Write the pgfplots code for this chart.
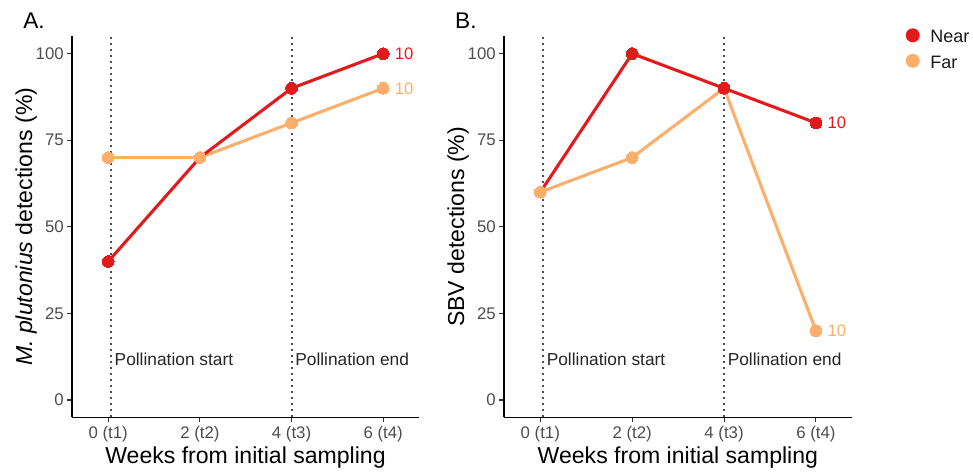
\documentclass[border=0pt]{standalone}
\usepackage{pgfplots}
\pgfplotsset{compat=1.18}
\usepackage{fontspec}
\setmainfont{Liberation Sans}
\definecolor{nearc}{HTML}{E31A1C}
\definecolor{farc}{HTML}{FDAE6B}
\definecolor{tickc}{HTML}{4D4D4D}
\definecolor{dotc}{HTML}{4D4D4D}

\pgfplotsset{
  panel/.style={
    scale only axis, height=285.75pt,
    xmin=-0.395, xmax=3.39, ymin=-5, ymax=105,
    axis x line*=bottom, axis y line*=left,
    axis line style={-, line width=1.2pt, black},
    xtick={0,1,2,3}, xticklabels={0 (t1),2 (t2),4 (t3),6 (t4)},
    ytick={0,25,50,75,100},
    tick align=outside, major tick length=3.75pt,
    tick style={line width=0.8pt, color=black!80},
    /pgf/number format/assume math mode=true,
    tick label style={font=\fontsize{12.6}{14}\selectfont, text=tickc},
    xticklabel style={anchor=base, inner sep=0pt, yshift=-12.25pt},
    yticklabel style={anchor=east, inner sep=0pt, xshift=-2.25pt},
    every axis x label/.style={at={(axis description cs:0.5,-0.1207)}, anchor=base, font=\fontsize{17.3}{20}\selectfont},
    every axis y label/.style={at={(axis description cs:-0.115,0.5)}, rotate=90, anchor=base, font=\fontsize{17.3}{20}\selectfont},
    xlabel={Weeks from initial sampling},
    clip=false,
  },
  nearstyle/.style={color=nearc, line width=2.3pt, mark=*, mark size=4.4pt, mark options={line width=0pt, fill=nearc}},
  farstyle/.style={color=farc, line width=2.3pt, mark=*, mark size=4.4pt, mark options={line width=0pt, fill=farc}},
  vline/.style={color=dotc, line width=1.5pt, dash pattern=on 1.5pt off 3pt, forget plot},
}
\tikzset{
  annot/.style={anchor=base west, inner sep=0pt, xshift=2.6pt, font=\fontsize{13}{15}\selectfont, text=black!85},
  nlab/.style={anchor=west, inner sep=0pt, xshift=8.6pt, font=\fontsize{12.5}{14}\selectfont},
  letter/.style={anchor=base west, inner sep=0pt, font=\fontsize{17}{20}\selectfont},
}

\begin{document}
\begin{tikzpicture}
\path[use as bounding box] (0,0) rectangle (729.75pt,-353.25pt);

% Panel A
\begin{axis}[panel, width=260.25pt, at={(54pt,-312.98pt)}, anchor=south west,
  ylabel={\textit{M. plutonius} detections (\%)}]
\addplot[vline] coordinates {(0.03,-5) (0.03,105)};
\addplot[vline] coordinates {(2,-5) (2,105)};
\addplot[farstyle, forget plot] coordinates {(0,70) (1,70) (2,80) (3,90)};
\addplot[nearstyle, forget plot, mark indices={1,3,4}] coordinates {(0,40) (1,70) (2,90) (3,100)};
\node[annot] at (axis cs:0.03,10) {Pollination start};
\node[annot] at (axis cs:2,10) {Pollination end};
\node[nlab, text=nearc] at (axis cs:3,100) {10};
\node[nlab, text=farc] at (axis cs:3,90) {10};
\node[letter] at (axis description cs:-0.141,1.021) {A.};
\end{axis}

% Panel B
\begin{axis}[panel, width=260.8pt, at={(378pt,-312.98pt)}, anchor=south west,
  ylabel={SBV detections (\%)},
  legend style={draw=none, fill=none, inner sep=0pt, outer sep=0pt,
    at={(axis description cs:1.1553,1.021)}, anchor=north west,
    font=\fontsize{13.5}{15}\selectfont, row sep=7pt, column sep=0pt,
    nodes={inner sep=0pt, text=black!90}},
  legend cell align=left]
\addplot[vline] coordinates {(0.03,-5) (0.03,105)};
\addplot[vline] coordinates {(2,-5) (2,105)};
\addplot[farstyle, forget plot] coordinates {(0,60) (1,70) (2,90) (3,20)};
\addplot[nearstyle, forget plot, mark indices={2,3,4}] coordinates {(0,60) (1,100) (2,90) (3,80)};
\addlegendimage{color=nearc, legend image code/.code={\fill[nearc, draw=none] (0pt,1.5pt) circle (5.25pt); \path[draw=none, fill=none] (-5.25pt,0pt) -- (13.2pt,0pt);}}
\addlegendentry{Near}
\addlegendimage{color=farc, legend image code/.code={\fill[farc, draw=none] (0pt,1.5pt) circle (5.25pt); \path[draw=none, fill=none] (-5.25pt,0pt) -- (13.2pt,0pt);}}
\addlegendentry{Far}
\node[annot] at (axis cs:0.03,10) {Pollination start};
\node[annot] at (axis cs:2,10) {Pollination end};
\node[nlab, text=nearc] at (axis cs:3,80) {10};
\node[nlab, text=farc] at (axis cs:3,20) {10};
\node[letter] at (axis description cs:-0.141,1.021) {B.};
\end{axis}
\end{tikzpicture}
\end{document}
